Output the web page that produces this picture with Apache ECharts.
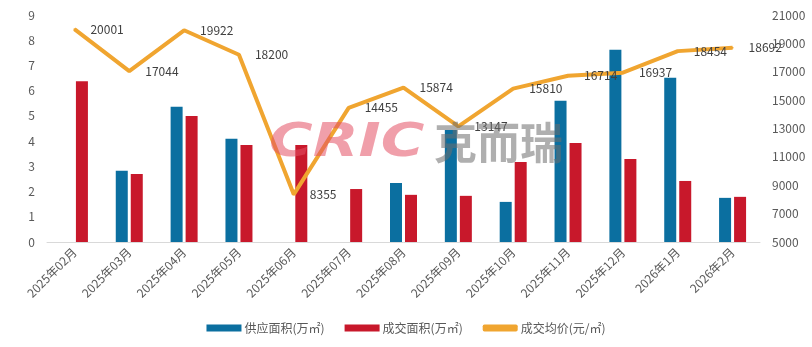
<!DOCTYPE html>
<html><head><meta charset="utf-8">
<script src="https://cdn.jsdelivr.net/npm/echarts@6/dist/echarts.min.js"></script>
<style>html,body{margin:0;padding:0;background:#fff}#c{width:812px;height:347px}</style>
</head><body><div id="c"></div>
<script>
const categories = ['2025年02月','2025年03月','2025年04月','2025年05月','2025年06月','2025年07月','2025年08月','2025年09月','2025年10月','2025年11月','2025年12月','2026年1月','2026年2月'];
const supplyArea = [0, 2.82, 5.36, 4.09, 0, 0, 2.34, 4.44, 1.59, 5.60, 7.62, 6.51, 1.75];
const dealArea = [6.37, 2.70, 5.00, 3.85, 3.85, 2.10, 1.87, 1.83, 3.17, 3.93, 3.29, 2.42, 1.79];
const avgPrice = [20001, 17044, 19922, 18200, 8355, 14455, 15874, 13147, 15810, 16714, 16937, 18454, 18692];
const leftTicks = {min: 0, max: 9, interval: 1};
const rightTicks = {min: 5000, max: 21000, interval: 2000};

const font = '"Noto Sans CJK SC", "Microsoft YaHei", sans-serif';
const chart = echarts.init(document.getElementById('c'));
chart.setOption({
  animation: false,
  textStyle: {fontFamily: font},
  grid: {left: 47, right: 52, top: 15, bottom: 105},
  graphic: [
    {type: 'text', x: 269, y: 121, scaleX: 1.24, scaleY: 0.95, z: 100, silent: true,
     style: {text: 'CRIC', font: 'italic 900 48px "DejaVu Sans", sans-serif', fill: 'rgba(228,80,100,0.55)'}},
    {type: 'text', x: 434, y: 121, z: 100, silent: true,
     style: {text: '克而瑞', font: 'bold 43px "Noto Sans CJK SC", sans-serif', fill: 'rgba(110,110,110,0.55)'}}
  ],
  legend: {
    top: 317, left: 'center', itemGap: 20, itemWidth: 35, itemHeight: 7,
    textStyle: {color: '#595959', fontSize: 12, fontFamily: font, padding: [0,0,0,-2]},
    data: [
      {name: '供应面积(万㎡)', icon: 'rect'},
      {name: '成交面积(万㎡)', icon: 'rect'},
      {name: '成交均价(元/㎡)', icon: 'roundRect', itemStyle: {color: '#F0A530', opacity: 1}}
    ]
  },
  xAxis: {
    type: 'category', data: categories,
    axisLine: {lineStyle: {color: '#D9D9D9'}},
    axisTick: {show: false},
    axisLabel: {rotate: 45, color: '#595959', fontSize: 12, interval: 0, margin: 8}
  },
  yAxis: [
    {type: 'value', min: leftTicks.min, max: leftTicks.max, interval: leftTicks.interval,
     splitLine: {show: false}, axisLine: {show: false}, axisTick: {show: false},
     axisLabel: {color: '#595959', fontSize: 12, margin: 12}},
    {type: 'value', min: rightTicks.min, max: rightTicks.max, interval: rightTicks.interval,
     splitLine: {show: false}, axisLine: {show: false}, axisTick: {show: false},
     axisLabel: {color: '#595959', fontSize: 12, margin: 12, formatter: v => String(v)}}
  ],
  series: [
    {name: '供应面积(万㎡)', type: 'bar', data: supplyArea, barWidth: 12, barGap: '25%',
     itemStyle: {color: '#0B6FA0'}},
    {name: '成交面积(万㎡)', type: 'bar', data: dealArea, barWidth: 12, barGap: '25%',
     itemStyle: {color: '#C8182B'}},
    {name: '成交均价(元/㎡)', type: 'line', yAxisIndex: 1, data: avgPrice,
     symbol: 'circle', symbolSize: 2, showSymbol: true, showAllSymbol: true, z: 5,
     lineStyle: {color: '#F0A530', width: 4},
     itemStyle: {color: '#F0A530'},
     label: {show: true, position: 'right', distance: 15, color: '#404040', fontSize: 12, offset: [0, 2]},
     labelLayout: {hideOverlap: false}}
  ]
});
</script></body></html>
